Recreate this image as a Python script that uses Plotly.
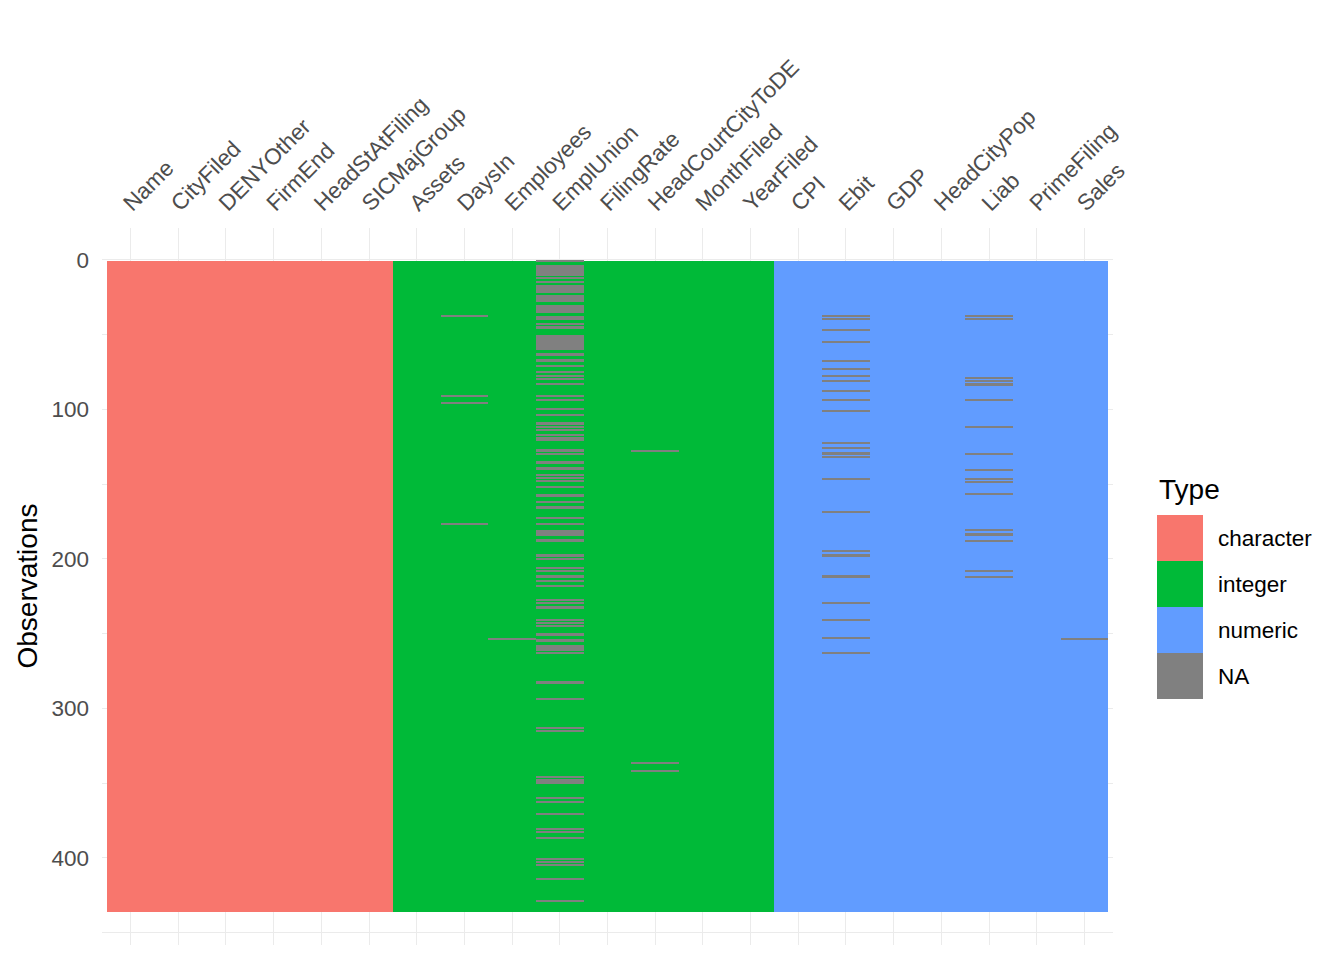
import plotly.graph_objects as go

# ---- data ----
columns = ["Name", "CityFiled", "DENYOther", "FirmEnd", "HeadStAtFiling", "SICMajGroup",
           "Assets", "DaysIn", "Employees", "EmplUnion", "FilingRate", "HeadCourtCityToDE",
           "MonthFiled", "YearFiled",
           "CPI", "Ebit", "GDP", "HeadCityPop", "Liab", "PrimeFiling", "Sales"]
column_types = ["character", "character", "character", "character", "character", "character",
                "integer", "integer", "integer", "integer", "integer", "integer", "integer", "integer",
                "numeric", "numeric", "numeric", "numeric", "numeric", "numeric", "numeric"]
n_obs = 436

na_daysin = [38, 91, 96, 177]
na_employees = [254]
na_emplunion = [1, 4, 5, 6, 7, 8, 9, 10, 12, 15, 17, 18, 19, 20, 21, 22, 24, 25, 26, 27, 28,
                31, 32, 33, 34, 35, 38, 39, 40, 43, 45, 46, 51, 52, 53, 54, 55, 56, 57, 58, 59, 60,
                63, 64, 67, 68, 71, 75, 78, 80, 83, 91, 94, 100, 104, 109, 110, 112, 114, 117,
                119, 121, 127, 128, 130, 135, 136, 139, 140, 144, 146, 148, 152, 157, 158, 162,
                165, 166, 173, 177, 181, 182, 183, 184, 187, 188, 197, 198, 200, 206, 208, 211,
                212, 215, 218, 228, 230, 232, 233, 241, 243, 245, 250, 251, 254, 255, 258, 259,
                260, 261, 263, 282, 283, 294, 313, 315, 346, 348, 349, 350, 360, 363, 371, 381,
                383, 387, 401, 403, 405, 414, 429]
na_headcourt = [128, 337, 342]
na_ebit = [38, 40, 47, 55, 68, 73, 78, 81, 88, 94, 101, 123, 126, 129, 130, 132, 147, 169,
           195, 197, 198, 211, 212, 230, 241, 253, 263]
na_liab = [38, 40, 79, 81, 83, 84, 94, 112, 130, 141, 147, 149, 157, 181, 183, 184, 188, 208, 212]
na_sales = [254]

na_rows = {"DaysIn": na_daysin, "Employees": na_employees, "EmplUnion": na_emplunion,
           "HeadCourtCityToDE": na_headcourt, "Ebit": na_ebit, "Liab": na_liab, "Sales": na_sales}

type_names = ["character", "integer", "numeric", "NA"]
type_colors = ["#F8766D", "#00BA38", "#619CFF", "#808080"]

# ---- build runs of identical cells per column ----
runs = {t: {"x": [], "base": [], "len": []} for t in type_names}
for col, t in zip(columns, column_types):
    missing = set(na_rows.get(col, []))
    prev = None
    start = 1
    for r in range(1, n_obs + 2):
        cur = None if r > n_obs else ("NA" if r in missing else t)
        if cur != prev:
            if prev is not None:
                runs[prev]["x"].append(col)
                runs[prev]["base"].append(start - 0.5)
                runs[prev]["len"].append(r - start)
            start = r
            prev = cur

FONT = "Liberation Sans, Arial, sans-serif"

fig = go.Figure()
for t, color in zip(type_names, type_colors):
    d = runs[t]
    if not d["x"]:
        continue
    fig.add_trace(go.Bar(x=d["x"], y=d["len"], base=d["base"], width=1,
                         marker=dict(color=color, line=dict(width=0)),
                         name=t, hoverinfo="skip"))

W, H = 1344, 960
L, R, T, B = 102, 231, 228, 15
pw, ph = W - L - R, H - T - B

def px_x(x):
    return (x - L) / pw

def px_y(y):
    return (H - B - y) / ph

fig.update_layout(
    width=W, height=H,
    margin=dict(l=L, r=R, t=T, b=B, pad=0),
    paper_bgcolor="white", plot_bgcolor="white",
    font=dict(family=FONT, color="#4D4D4D"),
    showlegend=False, barmode="overlay", bargap=0,
    xaxis=dict(side="top", tickangle=-45, type="category",
               categoryorder="array", categoryarray=columns,
               tickfont=dict(size=22.5, color="#4D4D4D", family=FONT),
               range=[-0.6, len(columns) - 0.4],
               showgrid=True, gridcolor="#EBEBEB", gridwidth=1,
               zeroline=False, showline=False, ticks="",
               ticklabelstandoff=7, ticklabelshift=-6),
    yaxis=dict(range=[458.3, -21.3], tickvals=[0, 100, 200, 300, 400],
               tickfont=dict(size=22.5, color="#4D4D4D", family=FONT),
               showgrid=True, gridcolor="#EBEBEB", gridwidth=1,
               minor=dict(tickvals=[50, 150, 250, 350, 450], showgrid=True,
                          gridcolor="#EBEBEB", gridwidth=0.6),
               zeroline=False, showline=False, ticks="", ticklabelstandoff=12),
)

# y-axis title
fig.add_annotation(text="Observations", xref="paper", yref="paper",
                   x=px_x(27), y=0.5, textangle=-90, showarrow=False,
                   xanchor="center", yanchor="middle",
                   font=dict(size=28, color="black", family=FONT))

# legend (manual, ggplot style)
fig.add_annotation(text="Type", xref="paper", yref="paper", x=px_x(1157), y=px_y(489),
                   showarrow=False, xanchor="left", yanchor="middle",
                   font=dict(size=28, color="black", family=FONT))
key_x0, key_x1, key_top, key_h = 1157, 1203, 515, 46
for i, (name, color) in enumerate(zip(type_names, type_colors)):
    y0 = key_top + i * key_h
    fig.add_shape(type="rect", xref="paper", yref="paper",
                  x0=px_x(key_x0), x1=px_x(key_x1), y0=px_y(y0 + key_h), y1=px_y(y0),
                  fillcolor=color, line=dict(width=0), layer="above")
    fig.add_annotation(text=name, xref="paper", yref="paper", x=px_x(1216),
                       y=px_y(y0 + key_h / 2), showarrow=False, xanchor="left",
                       yanchor="middle", font=dict(size=22.5, color="black", family=FONT))

fig.write_html("out.html", config={"displayModeBar": False})
